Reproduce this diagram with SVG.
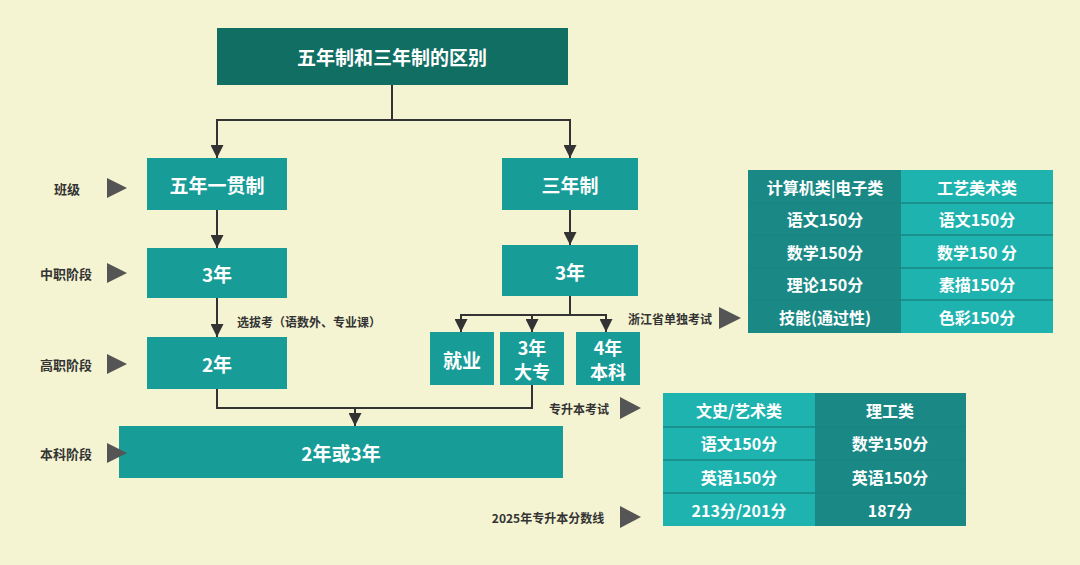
<svg xmlns="http://www.w3.org/2000/svg" width="1080" height="565" viewBox="0 0 1080 565">
<defs>
<marker id="ar" viewBox="0 0 10 10" markerWidth="13" markerHeight="13" refX="10" refY="5" orient="auto" markerUnits="userSpaceOnUse"><path d="M0,0 L10,5 L0,10 Z" fill="#333"/></marker>
</defs>
<style>
text{font-family:"Noto Sans CJK SC","Noto Sans",sans-serif;font-weight:bold;text-anchor:middle;dominant-baseline:central}
.n{fill:#179c97}
.w{fill:#fff;font-size:19px}
.w2{fill:#fff;font-size:18px}
.lb{fill:#333;font-size:13px}
.tri{fill:#555}
.d{fill:#1a8884}
.l{fill:#1fb3b0}
.t{fill:#fff;font-size:16px}
.c{fill:none;stroke:#333;stroke-width:2}
.sep{stroke:#188682;stroke-width:1.5}
</style>
<rect width="1080" height="565" fill="#f4f4d2"/>
<g id="connectors">
<path class="c" d="M392,85 V120 M216,120 H571"/>
<path class="c" d="M217,120 V158" marker-end="url(#ar)"/>
<path class="c" d="M570,120 V158" marker-end="url(#ar)"/>
<path class="c" d="M217,210 V248" marker-end="url(#ar)"/>
<path class="c" d="M570,210 V245" marker-end="url(#ar)"/>
<path class="c" d="M217,298 V337" marker-end="url(#ar)"/>
<path class="c" d="M570,296 V315 M460,315 H607"/>
<path class="c" d="M461,315 V332" marker-end="url(#ar)"/>
<path class="c" d="M532,315 V332" marker-end="url(#ar)"/>
<path class="c" d="M606,315 V332" marker-end="url(#ar)"/>
<path class="c" d="M217,389 V408 H532 V385"/>
<path class="c" d="M355,408 V426" marker-end="url(#ar)"/>
</g>
<g id="title"><rect x="217" y="28" width="351" height="57" fill="#106e63"/><text class="w" x="392" y="56">五年制和三年制的区别</text></g>
<g id="n5"><rect class="n" x="147" y="158" width="140" height="52"/><text class="w" x="217" y="184">五年一贯制</text></g>
<g id="n3"><rect class="n" x="502" y="158" width="136" height="52"/><text class="w" x="570" y="184">三年制</text></g>
<g id="l3"><rect class="n" x="147" y="248" width="140" height="50"/><text class="w" x="217" y="273">3年</text></g>
<g id="r3"><rect class="n" x="502" y="245" width="136" height="51"/><text class="w" x="570" y="271">3年</text></g>
<g id="l2"><rect class="n" x="147" y="337" width="140" height="52"/><text class="w" x="217" y="363">2年</text></g>
<g id="jy"><rect class="n" x="430" y="332" width="64" height="53"/><text class="w" x="462" y="359">就业</text></g>
<g id="dz"><rect class="n" x="500" y="332" width="64" height="53"/><text class="w2" x="532" y="347">3年</text><text class="w2" x="532" y="371">大专</text></g>
<g id="bk"><rect class="n" x="576" y="332" width="64" height="53"/><text class="w2" x="608" y="347">4年</text><text class="w2" x="608" y="371">本科</text></g>
<g id="b23"><rect class="n" x="119" y="426" width="444" height="52"/><text class="w" x="341" y="452">2年或3年</text></g>
<g id="labels">
<text class="lb" x="67" y="188">班级</text><path class="tri" d="M107,178 L127,188 L107,198 Z"/>
<text class="lb" x="66" y="273">中职阶段</text><path class="tri" d="M107,263 L127,273 L107,283 Z"/>
<text class="lb" x="66" y="364">高职阶段</text><path class="tri" d="M107,354 L127,364 L107,374 Z"/>
<text class="lb" x="66" y="453">本科阶段</text><path class="tri" d="M107,443 L127,453 L107,463 Z"/>
<text class="lb" x="309" y="321" style="font-size:12px">选拔考（语数外、专业课）</text>
<text class="lb" x="670" y="318" style="font-size:12px">浙江省单独考试</text><path class="tri" d="M719,307 L741,318 L719,329 Z"/>
<text class="lb" x="579" y="408" style="font-size:12px">专升本考试</text><path class="tri" d="M620,397 L641,408 L620,419 Z"/>
<text class="lb" x="548" y="517" style="font-size:12px">2025年专升本分数线</text><path class="tri" d="M620,506 L641,517 L620,528 Z"/>
</g>
<g id="table1">
<rect class="d" x="748" y="170" width="153" height="163"/><rect class="l" x="901" y="170" width="152" height="163"/>
<path class="sep" d="M748,203 H1053 M748,235 H1053 M748,268 H1053 M748,300 H1053"/>
<text class="t" x="825" y="187">计算机类|电子类</text><text class="t" x="977" y="187">工艺美术类</text>
<text class="t" x="825" y="219">语文150分</text><text class="t" x="977" y="219">语文150分</text>
<text class="t" x="825" y="252">数学150分</text><text class="t" x="977" y="252">数学150 分</text>
<text class="t" x="825" y="284">理论150分</text><text class="t" x="977" y="284">素描150分</text>
<text class="t" x="825" y="317">技能(通过性)</text><text class="t" x="977" y="317">色彩150分</text>
</g>
<g id="table2">
<rect class="l" x="663" y="393" width="152" height="133"/><rect class="d" x="815" y="393" width="151" height="133"/>
<path class="sep" d="M663,427 H966 M663,460 H966 M663,493 H966"/>
<text class="t" x="739" y="410">文史/艺术类</text><text class="t" x="890" y="410">理工类</text>
<text class="t" x="739" y="443">语文150分</text><text class="t" x="890" y="443">数学150分</text>
<text class="t" x="739" y="477">英语150分</text><text class="t" x="890" y="477">英语150分</text>
<text class="t" x="739" y="510">213分/201分</text><text class="t" x="890" y="510">187分</text>
</g>
</svg>
